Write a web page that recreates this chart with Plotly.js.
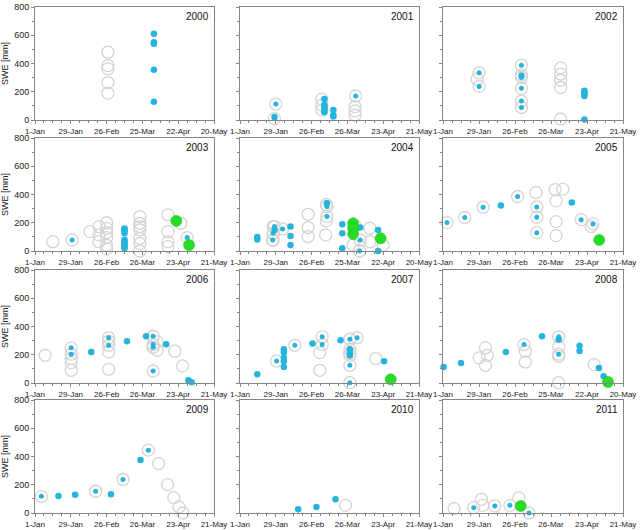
<!DOCTYPE html>
<html>
<head>
<meta charset="utf-8">
<script src="https://cdn.plot.ly/plotly-3.0.1.min.js"></script>
<style>
  html, body { margin: 0; padding: 0; background: #fff; }
  #chart { width: 640px; height: 530px; }
</style>
</head>
<body>
<div id="chart"></div>
<script>
// Winter seasons shown, one panel each
const years = [2000, 2001, 2002, 2003, 2004, 2005, 2006, 2007, 2008, 2009, 2010, 2011];

// Day values are days after 1 January; SWE values in mm.
// Open grey circles
const grayDay = [
  [57, 57, 57, 57, 57],
  [64, 64, 64, 90, 90, 90],
  [26.5, 91.5, 91.5, 91.5, 91.5, 91.5],
  [14, 43, 50, 50, 50, 56, 56, 56, 56, 56, 56, 82, 82, 82, 82, 82, 82, 82, 104, 104, 104, 104, 114],
  [26, 26, 26, 53.3, 53.3, 53.3, 67.5, 67, 88.5, 101.5, 101.5, 112],
  [72.3, 87.2, 93.2, 88, 88, 88, 115.3],
  [7.9, 28.3, 28.3, 28.3, 57.6, 57.6, 57.6, 95.5, 95.5, 109.4, 115.4],
  [62.4, 62.4, 85.9, 85.9, 85.9, 106.2],
  [28.1, 33, 34.5, 33, 64, 64, 90, 90, 90, 117.6],
  [96.6, 103.7, 108.6, 112.6, 115.7],
  [82.5],
  [8.6, 29.9, 31, 59]
];
const graySwe = [
  [480, 385, 362, 265, 190],
  [148, 106, 70, 94, 64, 35],
  [289, 369, 325, 282, 230, 7],
  [66, 137, 173, 114, 66, 200, 160, 130, 95, 40, 15, 244, 196, 173, 150, 90, 54, 0, 256, 137, 66, 31, 196],
  [173, 125, 78, 260, 166, 102, 213, 114, 43, 161, 66, 43],
  [414, 435, 438, 355, 208, 109, 173],
  [196, 173, 144, 90, 296, 220, 97, 291, 232, 225, 121],
  [215, 90, 239, 215, 196, 173],
  [178, 249, 196, 125, 225, 149, 256, 189, 2, 130],
  [350, 201, 109, 43, 0],
  [54],
  [31, 97, 54, 107]
];

// Blue filled dots
const cyanDay = [
  [93, 93, 93, 93, 93],
  [27, 66, 66, 66, 66, 66, 66, 73, 73, 73],
  [61, 110, 110, 110, 110, 110],
  [70, 70, 70, 70, 70, 70, 70, 70, 70, 70, 70, 120],
  [13.5, 13.5, 27, 39.5, 39.5, 39.5, 68, 80, 80, 80, 94, 108, 108],
  [45, 100.2],
  [44, 72, 86.9, 102.6, 119.9, 122.5],
  [13.5, 34.3, 34.3, 34.3, 34.3, 34.3, 56.7, 78.6, 85.9, 85.9, 85.9, 112.7],
  [0.5, 14, 48.9, 77, 90, 106.2, 106.2, 121.3, 124.9],
  [18.3, 31.4, 59.4, 82.5],
  [45.5, 59.8, 74.7],
  []
];
const cyanSwe = [
  [610, 550, 540, 355, 130],
  [22, 148, 106, 95, 82, 70, 55, 70, 35, 24],
  [312, 207, 195, 185, 170, 4],
  [160, 150, 140, 125, 80, 70, 60, 50, 40, 30, 20, 50],
  [100, 82, 150, 173, 107, 43, 338, 189, 125, 19, 166, 149, 0],
  [322, 343],
  [220, 296, 331, 275, 19, 5],
  [62, 239, 218, 178, 154, 114, 279, 303, 239, 215, 196, 154],
  [114, 142, 220, 331, 308, 263, 227, 107, 47],
  [121, 130, 133, 376],
  [26, 43, 97],
  []
];

// Grey circles with a blue dot at the same point
const bothDay = [
  [],
  [28, 27, 90.5],
  [28.1, 28.1, 61, 61, 61, 61, 61, 61],
  [29, 119],
  [27, 26, 25.5, 33.3, 68, 68, 67.5, 90, 94, 93.5],
  [3.1, 16.9, 31.2, 58, 72.9, 72.9, 72.9, 107.5, 116.6],
  [28.3, 28.3, 57.6, 57.6, 92.4, 92.4, 92.4, 92.4],
  [28.6, 42.9, 64.3, 64.3, 85.9, 85.9, 85.9, 91.6],
  [63, 90, 90],
  [5, 47.4, 68.8, 88.7],
  [],
  [23.9, 40.3, 52, 66.9]
];
const bothSwe = [
  [],
  [113, 10, 170],
  [334, 238, 388, 318, 301, 224, 134, 89],
  [78, 95],
  [173, 125, 78, 156, 315, 244, 330, 180, 78, 0],
  [201, 237, 310, 386, 312, 239, 130, 222, 192],
  [249, 204, 320, 267, 331, 272, 253, 85],
  [156, 267, 327, 272, 310, 125, 2, 320],
  [272, 327, 204],
  [118, 154, 237, 445],
  [],
  [38, 50, 54, 0]
];

// Large green dots
const greenDay = [
  [], [], [],
  [110.5, 120.5],
  [88.5, 88.5, 88.5, 110],
  [121.5],
  [],
  [117.9],
  [128.3],
  [], [],
  [60.4]
];
const greenSwe = [
  [], [], [],
  [213, 42],
  [196, 161, 120, 90],
  [78],
  [],
  [26],
  [7],
  [], [],
  [50]
];

const MONTHS = ['Jan', 'Feb', 'Mar', 'Apr', 'May', 'Jun', 'Jul', 'Aug', 'Sep', 'Oct', 'Nov', 'Dec'];
const tickDays = [0, 28, 56, 84, 112, 140];

function dayLabel(year, d) {
  const dt = new Date(Date.UTC(year, 0, 1 + d));
  return dt.getUTCDate() + '-' + MONTHS[dt.getUTCMonth()];
}

// Panel placement in pixels of the 640 x 530 page
const W = 640, H = 530;
const colPx = [[35, 214], [240, 419], [443, 623]];
const rowPx = [[7, 120], [138, 251], [270, 383], [400, 513]];

const AXIS_COLOR = '#858585';
const CYAN = '#27b4dc';
const GREEN = '#27dc27';
const GRAY_RING = '#d4d4d4';

const traces = [];
const layout = {
  width: W,
  height: H,
  margin: { l: 0, r: 0, t: 0, b: 0 },
  paper_bgcolor: '#ffffff',
  plot_bgcolor: '#ffffff',
  showlegend: false,
  font: { family: 'Liberation Sans, Arial, sans-serif', size: 8, color: '#222' },
  annotations: []
};

years.forEach((year, i) => {
  const n = i === 0 ? '' : String(i + 1);
  const xa = 'x' + n, ya = 'y' + n;
  const col = i % 3, row = Math.floor(i / 3);

  const ringStyle = { size: 12, color: 'rgba(255,255,255,0)', line: { color: GRAY_RING, width: 1.3 } };

  traces.push({
    type: 'scatter', mode: 'markers', xaxis: xa, yaxis: ya, cliponaxis: false,
    x: grayDay[i], y: graySwe[i], marker: ringStyle, hoverinfo: 'skip'
  });
  traces.push({
    type: 'scatter', mode: 'markers', xaxis: xa, yaxis: ya, cliponaxis: false,
    x: bothDay[i], y: bothSwe[i], marker: ringStyle, hoverinfo: 'skip'
  });
  traces.push({
    type: 'scatter', mode: 'markers', xaxis: xa, yaxis: ya, cliponaxis: false,
    x: bothDay[i], y: bothSwe[i], marker: { size: 5, color: CYAN }, hoverinfo: 'skip'
  });
  traces.push({
    type: 'scatter', mode: 'markers', xaxis: xa, yaxis: ya, cliponaxis: false,
    x: cyanDay[i], y: cyanSwe[i], marker: { size: 6.5, color: CYAN }, hoverinfo: 'skip'
  });
  traces.push({
    type: 'scatter', mode: 'markers', xaxis: xa, yaxis: ya, cliponaxis: false,
    x: greenDay[i], y: greenSwe[i], marker: { size: 11, color: GREEN, line: { color: '#1fc41f', width: 0.6 } }, hoverinfo: 'skip'
  });

  layout['xaxis' + n] = {
    domain: [colPx[col][0] / W, colPx[col][1] / W],
    anchor: ya,
    range: [0, 140],
    tickmode: 'array',
    tickvals: tickDays,
    ticktext: tickDays.map(d => dayLabel(year, d)),
    ticks: 'outside', ticklen: 3, tickwidth: 1, tickcolor: AXIS_COLOR,
    minor: { tick0: 0, dtick: 7, ticks: 'outside', ticklen: 2, tickcolor: AXIS_COLOR, showgrid: false },
    showline: true, linecolor: AXIS_COLOR, linewidth: 1, mirror: true,
    showgrid: false, zeroline: false,
    tickfont: { size: 8, color: '#222' },
    fixedrange: true
  };
  const yax = {
    domain: [1 - rowPx[row][1] / H, 1 - rowPx[row][0] / H],
    anchor: xa,
    range: [0, 800],
    tick0: 0, dtick: 200,
    ticks: 'outside', ticklen: 3, tickwidth: 1, tickcolor: AXIS_COLOR,
    minor: { tick0: 0, dtick: 100, ticks: 'outside', ticklen: 2, tickcolor: AXIS_COLOR, showgrid: false },
    showline: true, linecolor: AXIS_COLOR, linewidth: 1, mirror: true,
    showgrid: false, zeroline: false,
    showticklabels: col === 0,
    tickfont: { size: 9, color: '#222' },
    fixedrange: true
  };
  if (col === 0) {
    yax.title = { text: 'SWE [mm]', font: { size: 9, color: '#222' }, standoff: 4 };
  }
  layout['yaxis' + n] = yax;

  layout.annotations.push({
    xref: xa + ' domain', yref: ya + ' domain',
    x: 0.985, y: 0.915, xanchor: 'right', yanchor: 'middle',
    text: String(year), showarrow: false,
    font: { size: 10, color: '#111' }
  });
});

Plotly.newPlot('chart', traces, layout, { displayModeBar: false, staticPlot: true });
</script>
</body>
</html>
